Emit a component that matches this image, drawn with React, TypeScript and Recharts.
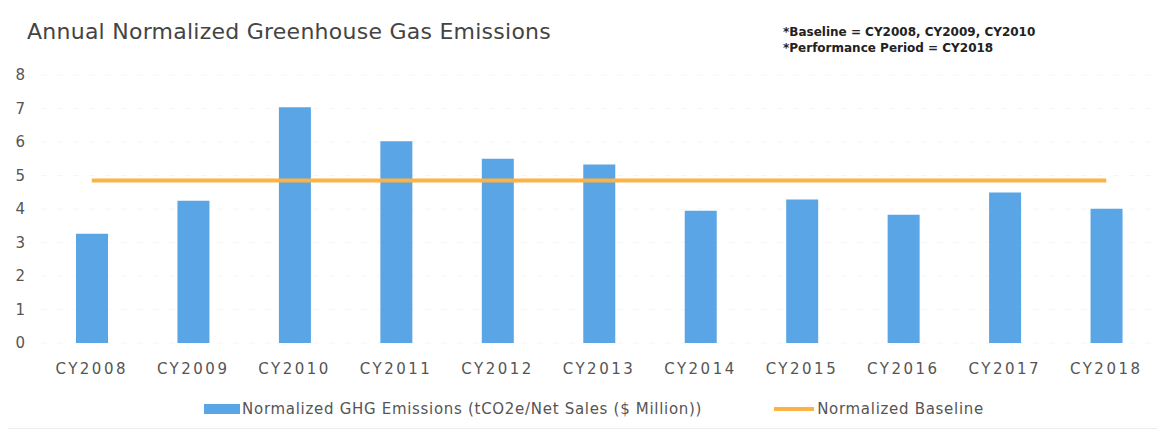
import React from "react";
import {
  ComposedChart,
  Bar,
  Line,
  XAxis,
  YAxis,
  CartesianGrid,
  Legend,
} from "recharts";

// Calendar years shown on the x axis
const years = [
  "CY2008",
  "CY2009",
  "CY2010",
  "CY2011",
  "CY2012",
  "CY2013",
  "CY2014",
  "CY2015",
  "CY2016",
  "CY2017",
  "CY2018",
];

// Normalized GHG emissions, tCO2e per $ million net sales
const emissions = [3.26, 4.25, 7.04, 6.02, 5.5, 5.33, 3.95, 4.28, 3.83, 4.49, 4.01];

// Normalized baseline (average of CY2008-CY2010), drawn as a flat line
const baseline = [4.85, 4.85, 4.85, 4.85, 4.85, 4.85, 4.85, 4.85, 4.85, 4.85, 4.85];

const yTicks = [0, 1, 2, 3, 4, 5, 6, 7, 8];

const BAR_COLOR = "#5AA5E5";
const LINE_COLOR = "#FDB245";
const TEXT = "#555";
const FONT = "'DejaVu Sans', sans-serif";

const data = years.map((year, i) => ({
  year,
  emissions: emissions[i],
  baseline: baseline[i],
}));

const renderLegend = (props: any) => {
  // bars first, then the baseline line
  const items = [...props.payload].sort((a: any, b: any) =>
    a.type === "rect" ? -1 : b.type === "rect" ? 1 : 0
  );
  return (
    <div
      style={{
        display: "flex",
        justifyContent: "center",
        fontFamily: FONT,
        fontSize: 15,
        color: TEXT,
        letterSpacing: 0.7,
        paddingLeft: 15,
      }}
    >
      {items.map((entry: any, i: number) => (
        <div
          key={entry.value}
          style={{
            display: "flex",
            alignItems: "center",
            marginRight: i < items.length - 1 ? 72 : 0,
          }}
        >
          {entry.type === "rect" ? (
            <span
              style={{
                width: 36,
                height: 10,
                background: BAR_COLOR,
                display: "inline-block",
                marginRight: 2,
              }}
            />
          ) : (
            <span
              style={{
                width: 40,
                height: 4,
                background: LINE_COLOR,
                display: "inline-block",
                marginRight: 3,
              }}
            />
          )}
          <span>{entry.value}</span>
        </div>
      ))}
    </div>
  );
};

export default function App() {
  return (
    <div style={{ position: "relative", width: 1157, height: 427 }}>
      <div
        style={{
          position: "absolute",
          left: -1,
          top: -5,
          width: 1165,
          height: 426,
          border: "1px solid #ececec",
          boxSizing: "border-box",
        }}
      />
      <div
        style={{
          position: "absolute",
          left: 19,
          top: 11,
          fontFamily: FONT,
          fontSize: 22,
          color: "#444",
          letterSpacing: 0.25,
        }}
      >
        Annual Normalized Greenhouse Gas Emissions
      </div>
      <div
        style={{
          position: "absolute",
          left: 775,
          top: 16,
          fontFamily: FONT,
          fontSize: 12,
          fontWeight: "bold",
          color: "#222",
          lineHeight: "16px",
        }}
      >
        <div>*Baseline = CY2008, CY2009, CY2010</div>
        <div>*Performance Period = CY2018</div>
      </div>
      <ComposedChart
        width={1157}
        height={427}
        data={data}
        margin={{ top: 67, right: 8, left: 8, bottom: 44 }}
        barCategoryGap={0}
      >
        <CartesianGrid vertical={false} stroke="#f6f6f6" strokeDasharray="6 10" />
        <XAxis
          dataKey="year"
          axisLine={false}
          tickLine={false}
          tickMargin={14}
          height={30}
          tick={{ fill: TEXT, fontSize: 15, fontFamily: FONT, letterSpacing: 2.5 }}
        />
        <YAxis
          domain={[0, 8]}
          ticks={yTicks}
          axisLine={false}
          tickLine={false}
          width={25}
          tickMargin={10}
          tick={{ fill: TEXT, fontSize: 15, fontFamily: FONT }}
        />
        <Legend
          verticalAlign="bottom"
          wrapperStyle={{ bottom: 17 }}
          content={renderLegend}
        />
        <Bar
          dataKey="emissions"
          name="Normalized GHG Emissions (tCO2e/Net Sales ($ Million))"
          fill={BAR_COLOR}
          barSize={32}
          legendType="rect"
          isAnimationActive={false}
        />
        <Line
          dataKey="baseline"
          name="Normalized Baseline"
          type="linear"
          stroke={LINE_COLOR}
          strokeWidth={4}
          dot={false}
          legendType="line"
          isAnimationActive={false}
        />
      </ComposedChart>
    </div>
  );
}
